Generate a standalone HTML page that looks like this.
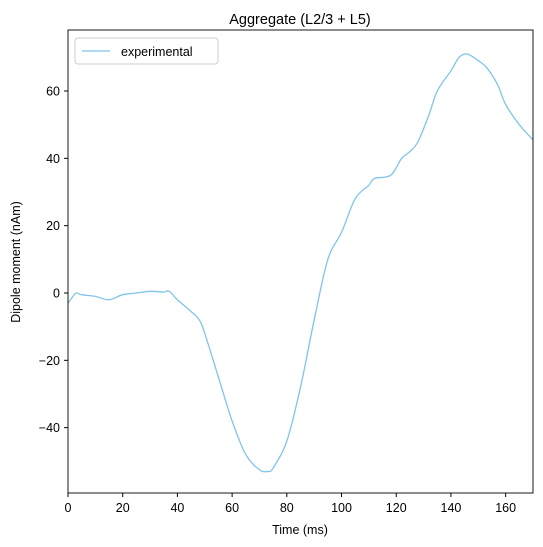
<!DOCTYPE html>
<html><head><meta charset="utf-8"><style>
body{margin:0;background:#fff;}
svg{display:block;font-family:"Liberation Sans","DejaVu Sans",sans-serif;}
</style></head><body>
<svg id="chart" width="543" height="547">
<rect x="0" y="0" width="543" height="547" fill="#fff"/>
<text x="300" y="24" font-size="14.5" text-anchor="middle">Aggregate (L2/3 + L5)</text>
<g id="ticks"></g>
<path id="line" fill="none" stroke="#7fc4ec" stroke-width="1.3"/>
<rect x="68" y="30" width="465" height="463" fill="none" stroke="#000" stroke-width="0.9"/>
<g>
<rect x="75" y="38" width="143" height="26" rx="3" fill="#fff" stroke="#ccc"/>
<line x1="82" y1="51" x2="110" y2="51" stroke="#7fc4ec" stroke-width="1.3"/>
<text x="121" y="56" font-size="12.5">experimental</text>
</g>
<text x="300" y="534" font-size="12.5" text-anchor="middle">Time (ms)</text>
<text x="20" y="262" font-size="12.5" text-anchor="middle" transform="rotate(-90 20 262)">Dipole moment (nAm)</text>
</svg>
<script>
const times=[0,2,3,5,10,15,20,25,30,35,37,40,45,48,50,55,60,65,70,73,75,80,85,90,95,100,105,110,112,118,122,125,128,132,135,140,143,146,150,153,157,160,165,170];
const dipole=[-3,-0.8,0,-0.5,-1,-2,-0.5,0,0.5,0.3,0.5,-2,-5.5,-8,-12,-25,-38,-48,-52.5,-53,-52,-44,-28,-8,10,18,28,32,34,35,40,42,45,53,60,66,70,71,69,67,62,56,50,45.5];
const xTicks=[0,20,40,60,80,100,120,140,160];
const yTicks=[-40,-20,0,20,40,60];
const xs=t=>68+t*(465/170);
const ys=v=>293-v*(202/60);
const ns="http://www.w3.org/2000/svg";
const g=document.getElementById('ticks');
xTicks.forEach(t=>{
 const l=document.createElementNS(ns,'line');
 l.setAttribute('x1',xs(t));l.setAttribute('x2',xs(t));l.setAttribute('y1',493);l.setAttribute('y2',497);l.setAttribute('stroke','#000');
 
 
 g.appendChild(l);
 const tx=document.createElementNS(ns,'text');
 tx.setAttribute('x',xs(t));tx.setAttribute('y',512);tx.setAttribute('font-size','12.5');tx.setAttribute('text-anchor','middle');tx.textContent=t;
 
 
 g.appendChild(tx);
});
yTicks.forEach(v=>{
 const l=document.createElementNS(ns,'line');
 l.setAttribute('x1',64);l.setAttribute('x2',68);l.setAttribute('y1',ys(v));l.setAttribute('y2',ys(v));l.setAttribute('stroke','#000');
 
 
 g.appendChild(l);
 const tx=document.createElementNS(ns,'text');
 tx.setAttribute('x',60);tx.setAttribute('y',ys(v)+4.5);tx.setAttribute('font-size','12.5');tx.setAttribute('text-anchor','end');tx.textContent=v<0?'\u2212'+(-v):v;
 
 
 g.appendChild(tx);
});
// smooth path through points (Catmull-Rom)
const P=times.map((t,i)=>[xs(t),ys(dipole[i])]);
let d='M'+P[0][0]+','+P[0][1];
for(let i=0;i<P.length-1;i++){
 const p0=P[Math.max(i-1,0)],p1=P[i],p2=P[i+1],p3=P[Math.min(i+2,P.length-1)];
 const c1=[p1[0]+(p2[0]-p0[0])/6,p1[1]+(p2[1]-p0[1])/6];
 const c2=[p2[0]-(p3[0]-p1[0])/6,p2[1]-(p3[1]-p1[1])/6];
 d+=' C'+c1+' '+c2+' '+p2;
}
document.getElementById('line').setAttribute('d',d);
</script>
</body></html>
